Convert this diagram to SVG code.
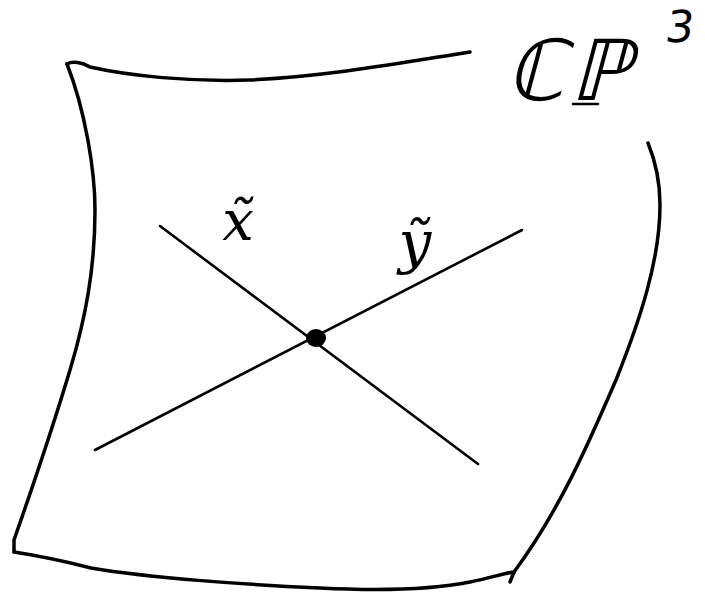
<svg xmlns="http://www.w3.org/2000/svg" width="705" height="592" viewBox="0 0 705 592">
<style>
.frame{fill:none;stroke:#000;stroke-width:3.5;stroke-linecap:round;stroke-linejoin:round}
.curve{fill:none;stroke:#000;stroke-width:2.6;stroke-linecap:round}
.lbl{font-family:"DejaVu Serif","Liberation Serif",serif;font-style:italic;fill:#000}
.cp{font-family:"DejaVu Sans","Liberation Sans",sans-serif;fill:#000}
</style>
<rect width="705" height="592" fill="#fff"/>
<g id="surface">
<path class="frame" d="M67,64 C72,61 82,62 90,67 C130,76 190,82 250,80 C330,76 400,63 470,52"/>
<path class="frame" d="M67,64 C85,110 95,170 95,210 C95,270 85,320 70,370 C55,420 35,480 14,540 L14,552"/>
<path class="frame" d="M14,552 C40,556 60,560 91,568 C150,578 250,585 320,588 C380,591 430,590 470,582 C490,578 505,573 514,572"/>
<path class="frame" d="M514,572 C560,510 590,440 616,380 C640,320 660,260 660,205 C660,180 655,160 648,143"/>
<path class="frame" d="M514,572 L510,582" stroke-width="2"/>
</g>
<g id="curves">
<path id="x-curve" class="curve" d="M160,226 L478,464"/>
<path id="y-curve" class="curve" d="M95,450 L522,230"/>
</g>
<g id="point">
<ellipse cx="316" cy="338" rx="10" ry="9" fill="#000"/>
</g>
<g id="labels">
<text class="lbl" x="238" y="240" font-size="56" text-anchor="middle">x̃</text>
<text class="lbl" x="415" y="262" font-size="58" text-anchor="middle">ỹ</text>
</g>
<g id="title">
<text class="cp" transform="translate(505,100) skewX(-15)" font-size="84" letter-spacing="6">ℂℙ</text>
<text class="cp" transform="translate(664,42) skewX(-8)" font-size="44">3</text>
<path d="M573,104 L598,104" stroke="#000" stroke-width="2.5" stroke-linecap="round"/>
</g>
</svg>
